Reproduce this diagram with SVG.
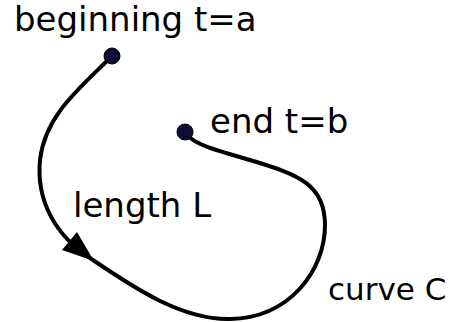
<svg xmlns="http://www.w3.org/2000/svg" width="459" height="322" viewBox="0 0 459 322">
<style>
text{font-family:"DejaVu Sans",Verdana,sans-serif;font-size:34px;fill:#000}
.curve{fill:none;stroke:#000;stroke-width:4;stroke-linecap:round}
.dot{fill:#0d0d33;stroke:#000;stroke-width:1}
</style>
<rect width="459" height="322" fill="#fff"/>
<g id="connectors">
<path class="curve" d="M112,56 C80,88 45,115 40,160 C36,200 55,235 90,258 C130,285 180,320 230,319 C290,318 325,270 325,225 C325,185 300,175 250,160 C215,150 195,145 185,133"/>
<polygon points="94,261 77,232 62,250" fill="#000"/>
</g>
<g id="start"><circle class="dot" cx="112" cy="56" r="8"/><text x="14" y="31">beginning t=a</text></g>
<g id="end"><circle class="dot" cx="185" cy="132" r="8"/><text x="210" y="133">end t=b</text></g>
<g id="length"><text x="73" y="217">length L</text></g>
<g id="curveC"><text x="328" y="300" style="font-size:31px">curve C</text></g>
</svg>
